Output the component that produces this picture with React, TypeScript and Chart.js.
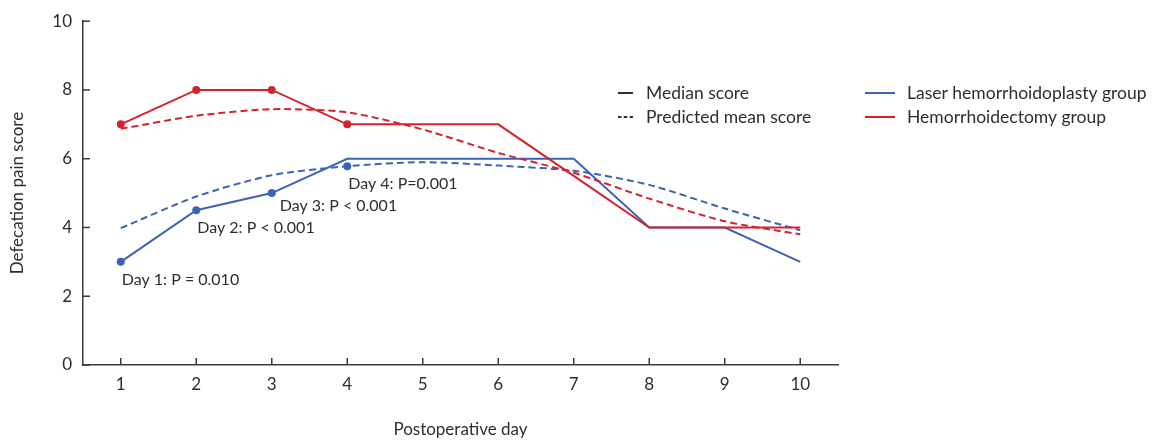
import React, { useEffect, useRef } from "react";
import { Chart, registerables } from "chart.js";

Chart.register(...registerables);

// ---- data ----
const days = [1, 2, 3, 4, 5, 6, 7, 8, 9, 10];
const laserMedian = [3, 4.5, 5, 6, 6, 6, 6, 4, 4, 3];
const laserPredicted = [3.98, 4.9, 5.52, 5.78, 5.9, 5.8, 5.65, 5.24, 4.55, 3.92];
const hemMedian = [7, 8, 8, 7, 7, 7, 5.5, 4, 4, 4];
const hemPredicted = [6.87, 7.25, 7.44, 7.35, 6.85, 6.17, 5.59, 4.84, 4.18, 3.8];

const laserMedianMarkedDays = [1, 2, 3];
const laserPredictedMarkedDays = [4];
const hemMedianMarkedDays = [1, 2, 3, 4];

const annotationDays = [1, 2, 3, 4];
const annotationValues = [3, 4.5, 5, 5.78];
const annotationTexts = ["Day 1: P = 0.010", "Day 2: P < 0.001", "Day 3: P < 0.001", "Day 4: P=0.001"];

const yTicks = [0, 2, 4, 6, 8, 10];
const styleLegendLabels = ["Median score", "Predicted mean score"];
const groupLegendLabels = ["Laser hemorrhoidoplasty group", "Hemorrhoidectomy group"];

const xTitle = "Postoperative day";
const yTitle = "Defecation pain score";

// ---- styles ----
const BLUE = "#3d64b4";
const RED = "#d3242c";
const AXIS = "#3a3a3a";
const TEXT = "#2e2e2e";
const FONT = "Lato";

const overlayPlugin = {
  id: "overlay",
  afterDraw(chart: any) {
    const ctx = chart.ctx as CanvasRenderingContext2D;
    const xs = chart.scales.x;
    const ys = chart.scales.y;
    ctx.save();
    // inward tick marks
    ctx.strokeStyle = AXIS;
    ctx.lineWidth = 1.5;
    xs.ticks.forEach((t: any) => {
      const px = xs.getPixelForValue(t.value);
      ctx.beginPath();
      ctx.moveTo(px, ys.bottom);
      ctx.lineTo(px, ys.bottom - 7);
      ctx.stroke();
    });
    ys.ticks.forEach((t: any) => {
      const py = ys.getPixelForValue(t.value);
      ctx.beginPath();
      ctx.moveTo(xs.left, py);
      ctx.lineTo(xs.left + 7, py);
      ctx.stroke();
    });

    // annotations
    const annDx = [1, 1, 8, 1];
    const annDy = [17.5, 17.5, 12.5, 17.5];
    ctx.font = `16px ${FONT}`;
    ctx.fillStyle = TEXT;
    ctx.textBaseline = "middle";
    ctx.textAlign = "left";
    annotationDays.forEach((d, i) => {
      const px = xs.getPixelForValue(d) + annDx[i];
      const py = ys.getPixelForValue(annotationValues[i]) + annDy[i];
      ctx.fillText(annotationTexts[i], px, py);
    });

    // legend
    const rows = [93, 117];
    ctx.font = `17.5px ${FONT}`;
    styleLegendLabels.forEach((lab, i) => {
      ctx.strokeStyle = TEXT;
      ctx.lineWidth = 2;
      ctx.setLineDash(i === 0 ? [] : [3.5, 2.3]);
      ctx.beginPath();
      ctx.moveTo(618, rows[i]);
      ctx.lineTo(633, rows[i]);
      ctx.stroke();
      ctx.setLineDash([]);
      ctx.fillStyle = TEXT;
      ctx.fillText(lab, 646, rows[i]);
    });
    groupLegendLabels.forEach((lab, i) => {
      ctx.strokeStyle = i === 0 ? BLUE : RED;
      ctx.lineWidth = 2;
      ctx.beginPath();
      ctx.moveTo(865, rows[i]);
      ctx.lineTo(895, rows[i]);
      ctx.stroke();
      ctx.fillStyle = TEXT;
      ctx.fillText(lab, 907, rows[i]);
    });
    ctx.restore();
  },
};

function radiusFor(marked: number[]) {
  return (c: any) => (marked.includes(days[c.dataIndex]) ? 4 : 0);
}

export default function App() {
  const ref = useRef<HTMLCanvasElement | null>(null);
  useEffect(() => {
    document.body.style.margin = "0";
    if (!ref.current) return;
    const mk = (vals: number[]) => days.map((d, i) => ({ x: d, y: vals[i] }));
    const chart = new Chart(ref.current, {
      type: "line",
      data: {
        datasets: [
          {
            label: "Hemorrhoidectomy median",
            data: mk(hemMedian),
            borderColor: RED,
            backgroundColor: RED,
            borderWidth: 2,
            pointRadius: radiusFor(hemMedianMarkedDays),
            pointBorderWidth: 0,
            tension: 0,
            order: 0,
          },
          {
            label: "Hemorrhoidectomy predicted",
            data: mk(hemPredicted),
            borderColor: RED,
            backgroundColor: RED,
            borderWidth: 2,
            borderDash: [7, 4],
            pointRadius: 0,
            tension: 0.25,
            order: 1,
          },
          {
            label: "Laser median",
            data: mk(laserMedian),
            borderColor: BLUE,
            backgroundColor: BLUE,
            borderWidth: 2,
            pointRadius: radiusFor(laserMedianMarkedDays),
            pointBorderWidth: 0,
            tension: 0,
            order: 2,
          },
          {
            label: "Laser predicted",
            data: mk(laserPredicted),
            borderColor: BLUE,
            backgroundColor: BLUE,
            borderWidth: 2,
            borderDash: [7, 4],
            pointRadius: radiusFor(laserPredictedMarkedDays),
            pointBorderWidth: 0,
            tension: 0.25,
            order: 3,
          },
        ],
      },
      options: {
        animation: false,
        responsive: false,
        layout: { padding: { left: 0, top: 18, right: 328, bottom: 0 } },
        plugins: { legend: { display: false }, tooltip: { enabled: false } },
        scales: {
          x: {
            type: "linear",
            min: 0.5,
            max: 10.5,
            afterBuildTicks: (s: any) => {
              s.ticks = days.map((v) => ({ value: v }));
            },
            afterFit: (s: any) => {
              s.height = 78;
            },
            grid: { display: false, drawTicks: false },
            border: { display: true, color: AXIS, width: 1.5 },
            ticks: { color: TEXT, font: { family: FONT, size: 17 }, padding: 9, autoSkip: false },
            title: {
              display: true,
              text: xTitle,
              color: TEXT,
              font: { family: FONT, size: 17 },
              padding: { top: 0, bottom: 3 },
            },
          },
          y: {
            type: "linear",
            min: 0,
            max: 10,
            afterBuildTicks: (s: any) => {
              s.ticks = yTicks.map((v) => ({ value: v }));
            },
            afterFit: (s: any) => {
              s.width = 83;
            },
            grid: { display: false, drawTicks: false },
            border: { display: true, color: AXIS, width: 1.5 },
            ticks: { color: TEXT, font: { family: FONT, size: 17 }, padding: 11 },
            title: {
              display: true,
              text: yTitle,
              color: TEXT,
              font: { family: FONT, size: 17 },
              padding: { top: 7, bottom: 0 },
            },
          },
        },
      },
      plugins: [overlayPlugin],
    } as any);
    return () => chart.destroy();
  }, []);
  return (
    <div style={{ width: 1166, height: 443 }}>
      <canvas ref={ref} width={1166} height={443} />
    </div>
  );
}
